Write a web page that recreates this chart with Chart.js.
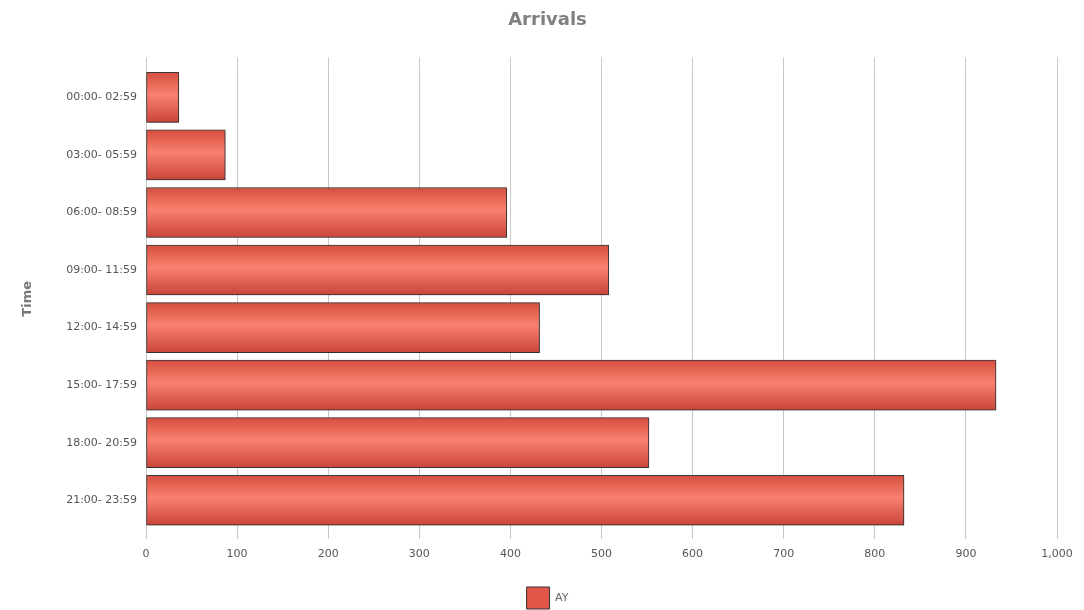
<!DOCTYPE html>
<html>
<head>
<meta charset="utf-8">
<title>Arrivals</title>
<script src="https://cdn.jsdelivr.net/npm/chart.js@4.4.0/dist/chart.umd.min.js"></script>
<style>
  html, body { margin: 0; padding: 0; background: #fff; }
  #wrap { width: 1084px; height: 610px; }
</style>
</head>
<body>
<div id="wrap"><canvas id="arrivalsChart" width="1084" height="610"></canvas></div>
<script>
// values
const timeSlots = [
  '00:00- 02:59', '03:00- 05:59', '06:00- 08:59', '09:00- 11:59',
  '12:00- 14:59', '15:00- 17:59', '18:00- 20:59', '21:00- 23:59'
];
const arrivalsAY = [36, 87, 396, 508, 432, 933, 552, 832];
const seriesName = 'AY';

const BAR_THICKNESS = 50;
const BAR_SOLID = '#e0574a';
const FONT = "'DejaVu Sans', Verdana, sans-serif";

// shiny vertical gradient, one per bar, placed with the y scale
function barFill(ctx) {
  const yScale = ctx.chart.scales.y;
  if (ctx.dataIndex === undefined || !yScale) return BAR_SOLID;
  const c = yScale.getPixelForValue(ctx.dataIndex);
  if (!isFinite(c)) return BAR_SOLID;
  const g = ctx.chart.ctx.createLinearGradient(0, c - BAR_THICKNESS / 2, 0, c + BAR_THICKNESS / 2);
  g.addColorStop(0, '#d64e3f');
  g.addColorStop(0.45, '#f9816f');
  g.addColorStop(1, '#c9443a');
  return g;
}

// soft shadow around the bars
const barShadow = {
  id: 'barShadow',
  beforeDatasetsDraw(chart) {
    const c = chart.ctx;
    c.save();
    c.shadowColor = 'rgba(0,0,0,0.35)';
    c.shadowBlur = 3;
    c.shadowOffsetX = 1;
    c.shadowOffsetY = 1;
  },
  afterDatasetsDraw(chart) {
    chart.ctx.restore();
  }
};

// grid lines poke a little above the plot area
const gridTop = {
  id: 'gridTop',
  beforeDatasetsDraw(chart) {
    const x = chart.scales.x;
    const c = chart.ctx;
    const top = chart.chartArea.top;
    c.save();
    c.strokeStyle = '#c8c8c8';
    c.lineWidth = 1;
    x.ticks.forEach((t) => {
      const px = Math.round(x.getPixelForValue(t.value) - 0.5) + 0.5;
      c.beginPath();
      c.moveTo(px, top - 11);
      c.lineTo(px, top);
      c.stroke();
    });
    c.restore();
  }
};

new Chart(document.getElementById('arrivalsChart'), {
  type: 'bar',
  data: {
    labels: timeSlots,
    datasets: [{
      label: seriesName,
      data: arrivalsAY,
      backgroundColor: barFill,
      borderColor: '#3c3c3c',
      borderWidth: 1,
      borderSkipped: false,
      barThickness: BAR_THICKNESS
    }]
  },
  options: {
    indexAxis: 'y',
    responsive: false,
    animation: false,
    layout: { padding: { left: 38, right: 27, top: 0, bottom: -9 } },
    scales: {
      x: {
        position: 'bottom',
        min: 0,
        max: 1000,
        ticks: { stepSize: 100, color: '#555', padding: 9, font: { family: FONT, size: 11 } },
        grid: { color: '#c8c8c8', lineWidth: 1, tickLength: 10 },
        border: { display: false },
        afterFit(scale) { scale.height = 48; }
      },
      y: {
        position: 'left',
        grid: { display: false, drawTicks: false },
        border: { display: false },
        ticks: { color: '#555', padding: 9, font: { family: FONT, size: 11 } },
        title: {
          display: true,
          text: 'Time',
          color: '#777',
          padding: { top: -18, bottom: 0 },
          font: { family: FONT, size: 13, weight: 'bold' }
        },
        afterFit(scale) { scale.width = 108; }
      }
    },
    plugins: {
      title: {
        display: true,
        text: 'Arrivals',
        color: '#808080',
        padding: { top: 10, bottom: 37 },
        font: { family: FONT, size: 18, weight: 'bold' }
      },
      legend: {
        position: 'bottom',
        labels: {
          boxWidth: 23,
          boxHeight: 22,
          padding: 10,
          color: '#666',
          font: { family: FONT, size: 11 },
          generateLabels(chart) {
            const items = Chart.defaults.plugins.legend.labels.generateLabels(chart);
            items.forEach((it) => {
              it.fillStyle = BAR_SOLID;
              it.strokeStyle = '#333';
              it.lineWidth = 1;
            });
            return items;
          }
        }
      },
      tooltip: { enabled: false }
    }
  },
  plugins: [gridTop, barShadow]
});
</script>
</body>
</html>
